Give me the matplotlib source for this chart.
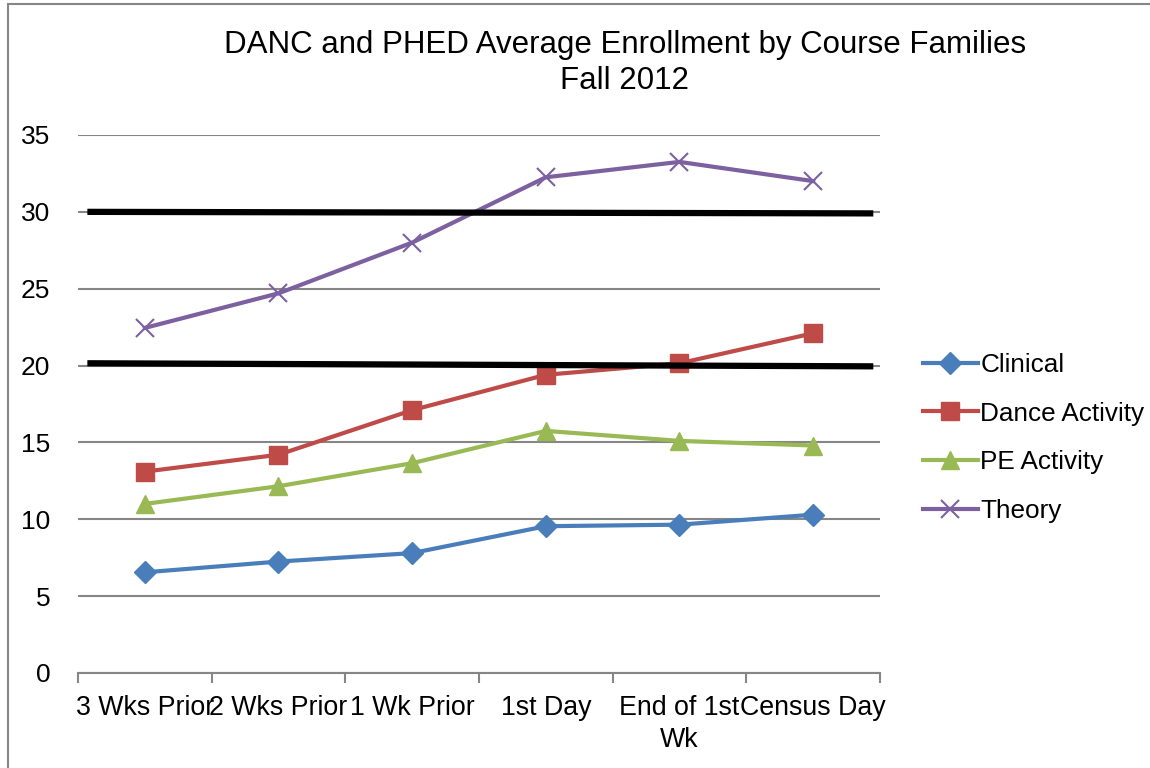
import numpy as np
import matplotlib.pyplot as plt
from matplotlib.patches import Rectangle

categories = ['3 Wks Prior', '2 Wks Prior', '1 Wk Prior', '1st Day', 'End of 1st\nWk', 'Census Day']
clinical = [6.55, 7.25, 7.8, 9.55, 9.65, 10.3]
dance = [13.1, 14.2, 17.1, 19.4, 20.15, 22.1]
pe = [11.0, 12.15, 13.65, 15.75, 15.1, 14.8]
theory = [22.45, 24.7, 28.0, 32.25, 33.25, 32.0]
# the two black reference lines (start/end values)
ref_high = [30.0, 29.9]
ref_low = [20.15, 19.95]

plt.rcParams['font.family'] = ['Liberation Sans', 'DejaVu Sans']

fig = plt.figure(figsize=(11.5, 7.68), dpi=100)
ax = fig.add_axes([78 / 1150, 1 - 673 / 768, 802 / 1150, 538 / 768])

x = np.arange(len(categories))
ax.plot(x, clinical, color='#4A7EBB', lw=3, marker='D', ms=11, label='Clinical')
ax.plot(x, dance, color='#BE4B48', lw=3, marker='s', ms=13, label='Dance Activity')
ax.plot(x, pe, color='#98B954', lw=3, marker='^', ms=13, label='PE Activity')
ax.plot(x, theory, color='#7D60A0', lw=3, marker='x', ms=13, mew=1.5, label='Theory')

ax.plot([-0.43, 5.45], ref_high, color='black', lw=4.5, solid_capstyle='butt')
ax.plot([-0.43, 5.45], ref_low, color='black', lw=4.5, solid_capstyle='butt')

ax.set_xlim(-0.5, 5.5)
ax.set_ylim(0, 35)
ax.set_yticks(range(0, 36, 5))
ax.set_xticks(x)
ax.set_xticklabels(categories, fontsize=19.3, linespacing=1.3)
ax.set_xticks(np.arange(-0.5, 6, 1), minor=True)
ax.tick_params(axis='x', which='major', length=0, pad=16)
ax.tick_params(axis='x', which='minor', length=7, width=1.5, color='#868686', direction='out')
ax.tick_params(axis='y', length=0, labelsize=19, pad=20)
ax.grid(axis='y', color='#868686', lw=1.5)
ax.set_axisbelow(True)
for s in ['top', 'right', 'left']:
    ax.spines[s].set_visible(False)
ax.spines['bottom'].set_color('#868686')
ax.spines['bottom'].set_linewidth(1.5)

fig.text(625 / 1150, 1 - 45 / 768, 'DANC and PHED Average Enrollment by Course Families',
         ha='center', va='center', fontsize=22.5)
fig.text(625 / 1150, 1 - 81 / 768, 'Fall 2012', ha='center', va='center', fontsize=22.5)

fig.legend(loc='center left', bbox_to_anchor=(910 / 1150, 1 - 438 / 768), frameon=False,
           fontsize=18.8, handlelength=2.1, handletextpad=0.1, labelspacing=0.95, borderpad=0)

fig.patches.append(Rectangle((8 / 1150, -0.01), 1.1, 1 - 4 / 768 + 0.01, transform=fig.transFigure,
                             fill=False, edgecolor='#868686', lw=1.5))

fig.savefig('out.png', dpi=100)
